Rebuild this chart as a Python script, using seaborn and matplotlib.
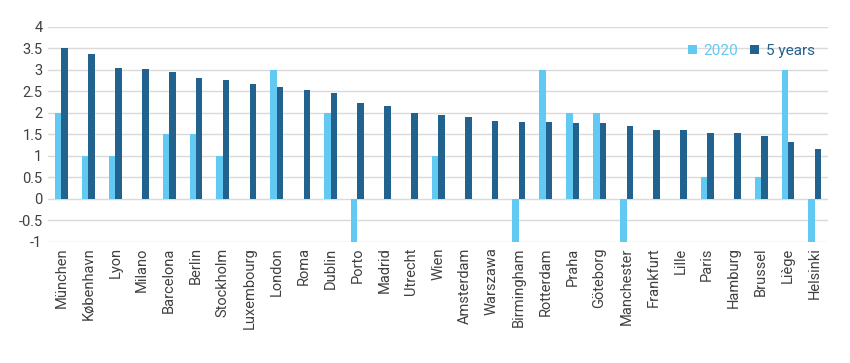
import matplotlib
matplotlib.use("Agg")
import matplotlib.pyplot as plt
import seaborn as sns
import pandas as pd

cities = ["München", "København", "Lyon", "Milano", "Barcelona", "Berlin", "Stockholm",
          "Luxembourg", "London", "Roma", "Dublin", "Porto", "Madrid", "Utrecht", "Wien",
          "Amsterdam", "Warszawa", "Birmingham", "Rotterdam", "Praha", "Göteborg",
          "Manchester", "Frankfurt", "Lille", "Paris", "Hamburg", "Brussel", "Liège", "Helsinki"]
values_2020 = [2, 1, 1, 0, 1.5, 1.5, 1, 0, 3, 0, 2, -1, 0, 0, 1, 0, 0, -1, 3, 2, 2,
               -1, 0, 0, 0.5, 0, 0.5, 3, -1]
values_5y = [3.51, 3.38, 3.05, 3.03, 2.95, 2.81, 2.76, 2.68, 2.59, 2.52, 2.45, 2.24, 2.17,
             1.99, 1.96, 1.90, 1.82, 1.78, 1.78, 1.76, 1.76, 1.69, 1.59, 1.59, 1.53, 1.52,
             1.45, 1.32, 1.15]
series = ["2020", "5 years"]
yticks = [-1, -0.5, 0, 0.5, 1, 1.5, 2, 2.5, 3, 3.5, 4]

light = "#62C9F2"
dark = "#22628F"

df = pd.DataFrame({
    "city": cities * 2,
    "value": values_2020 + values_5y,
    "series": [series[0]] * len(cities) + [series[1]] * len(cities),
})

sns.set_theme(style="white")
plt.rcParams["font.family"] = ["Roboto", "DejaVu Sans"]

fig = plt.figure(figsize=(8.5, 3.63), dpi=100)
ax = fig.add_axes([0.0565, 0.334, 0.918, 0.592])
sns.barplot(data=df, x="city", y="value", hue="series", palette=[light, dark],
            width=0.48, order=cities, hue_order=series, ax=ax, saturation=1,
            linewidth=0, edgecolor="none", legend=True)

ax.set_ylim(-1, 4)
ax.set_xlim(-0.5, len(cities) - 0.5)
ax.set_yticks(yticks)
ax.set_yticklabels([f"{t:g}" for t in yticks], fontsize=10.5, color="#404040")
ax.set_xticks(range(len(cities)))
ax.set_xticklabels(cities, rotation=90, fontsize=10.5, color="#404040")
ax.set_xlabel("")
ax.set_ylabel("")
ax.tick_params(axis="both", length=0, pad=4)
ax.grid(axis="y", color="#DADADA", linewidth=1)
ax.set_axisbelow(True)
for s in ax.spines.values():
    s.set_visible(False)

leg = ax.legend(loc="upper right", bbox_to_anchor=(1.0, 0.985), frameon=False,
                ncol=2, fontsize=11, handlelength=0.6, handleheight=0.6,
                handletextpad=0.4, columnspacing=0.8)
for txt, c in zip(leg.get_texts(), [light, dark]):
    txt.set_color(c)

fig.savefig("out.png", dpi=100)
